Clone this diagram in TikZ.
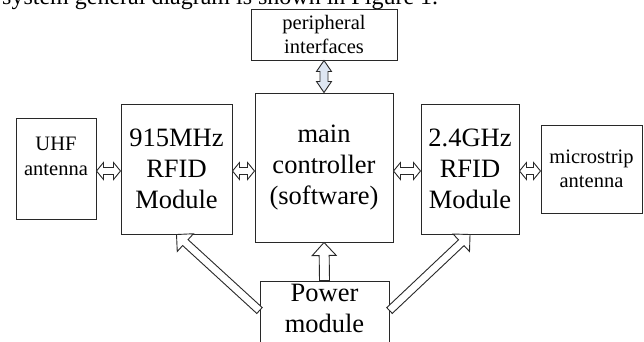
\documentclass[tikz,border=0pt]{standalone}
\usepackage{fontspec}
\setmainfont{Liberation Serif}
\usetikzlibrary{calc}
\definecolor{edge}{RGB}{40,40,40}
\definecolor{lightblue}{RGB}{222,230,242}
% single block arrow: [style] tail, tip, half shaft, half head, head length
\newcommand\blkarrow[6][]{%
  \coordinate (bH) at ($(#3)!#6!(#2)$);
  \draw[arrowbody,#1] ($(#2)!#4!90:(#3)$) -- ($(bH)!#4!90:(#3)$) -- ($(bH)!#5!90:(#3)$) -- (#3)
    -- ($(bH)!#5!-90:(#3)$) -- ($(bH)!#4!-90:(#3)$) -- ($(#2)!#4!-90:(#3)$) -- cycle;}
% double block arrow: [style] end A, end B, half shaft, half head, head length
\newcommand\dblkarrow[6][]{%
  \coordinate (dA) at ($(#2)!#6!(#3)$);
  \coordinate (dB) at ($(#3)!#6!(#2)$);
  \draw[arrowbody,#1] (#2) -- ($(dA)!#5!90:(#3)$) -- ($(dA)!#4!90:(#3)$) -- ($(dB)!#4!90:(#3)$)
    -- ($(dB)!#5!90:(#3)$) -- (#3) -- ($(dB)!#5!-90:(#3)$) -- ($(dB)!#4!-90:(#3)$)
    -- ($(dA)!#4!-90:(#3)$) -- ($(dA)!#5!-90:(#3)$) -- cycle;}
\begin{document}
\begin{tikzpicture}[x=1pt,y=-1pt,
  box/.style={draw=edge, line width=1pt, fill=white, inner sep=0pt, align=center},
  big/.style={font=\fontsize{26.5}{31}\selectfont},
  small/.style={font=\fontsize{20.5}{24.5}\selectfont},
  arrowbody/.style={draw=edge, line width=0.9pt, fill=white, line join=miter}]
\clip (0,0) rectangle (644,341);
\useasboundingbox (0,0) rectangle (644,341);
\fill[white] (0,0) rectangle (644,341);

\node[anchor=base west, inner sep=0pt, font=\fontsize{24}{28}\selectfont] (caption) at (2,4.5)
  {system general diagram is shown in Figure 1.};

\node[box, small, minimum width=146pt, minimum height=51pt] (periph) at (324,34.5) {peripheral\\interfaces};
\node[box, big, minimum width=138pt, minimum height=149pt] (main) at (324,167.5) {main\\controller\\(software)};
\node[box, big, minimum width=111pt, minimum height=130pt] (r915) at (176.5,169) {915MHz\\RFID\\Module};
\node[box, big, minimum width=98pt, minimum height=130pt] (r24) at (470,169) {2.4GHz\\RFID\\Module};
\node[box, small, minimum width=80pt, minimum height=101pt] (uhf) at (56,168.5) {UHF\\antenna\\\mbox{}};
\node[box, small, minimum width=101pt, minimum height=88pt] (micro) at (591.5,169) {microstrip\\antenna};
\node[box, big, minimum width=129pt, minimum height=86pt] (power) at (324.5,324) {Power\\module\\\mbox{}};

% connectors
\dblkarrow[fill=lightblue]{periph.south}{main.north}{4pt}{7.5pt}{11pt}
\coordinate (u1) at (uhf.east |- 0,171);
\coordinate (u2) at (r915.west |- 0,171);
\dblkarrow{u1}{u2}{3.5pt}{8.5pt}{7pt}
\coordinate (m1) at (r915.east |- 0,171);
\coordinate (m2) at (main.west |- 0,171);
\dblkarrow{m1}{m2}{3.5pt}{8.5pt}{7pt}
\coordinate (n1) at (main.east |- 0,171);
\coordinate (n2) at (r24.west |- 0,171);
\dblkarrow{n1}{n2}{3.5pt}{8.5pt}{7pt}
\coordinate (s1) at (r24.east |- 0,171);
\coordinate (s2) at (micro.west |- 0,171);
\dblkarrow{s1}{s2}{3.5pt}{8.5pt}{7pt}

\blkarrow{power.north}{main.south}{5pt}{12pt}{13pt}
\coordinate (pl) at (power.west |- 0,310.5);
\coordinate (pr) at (power.east |- 0,310.5);
\blkarrow{pl}{r915.south}{4pt}{12pt}{12pt}
\blkarrow{pr}{r24.south}{4pt}{12pt}{12pt}
\end{tikzpicture}
\end{document}
